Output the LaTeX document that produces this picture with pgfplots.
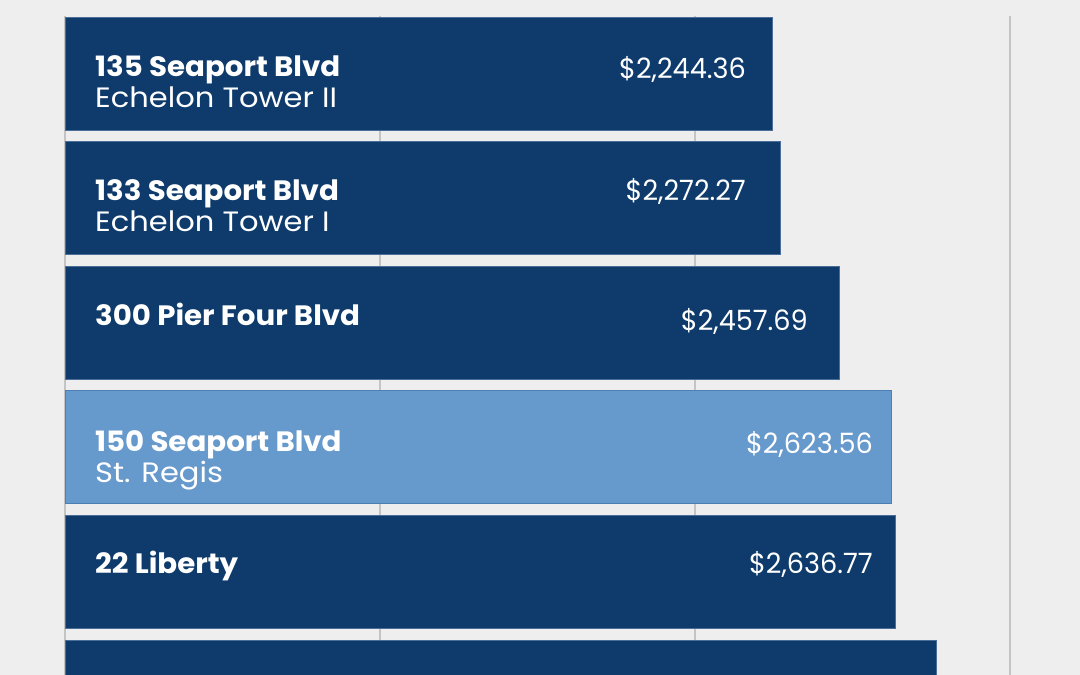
\documentclass[border=0pt]{standalone}
\usepackage{pgfplots}
\pgfplotsset{compat=1.18}
\usepackage{fontspec}
\setmainfont{Poppins}
\newfontfamily\namefont[FakeStretch=1.09, BoldFeatures={FakeStretch=1.045}]{Poppins}
\newfontfamily\valfont[FakeStretch=0.97]{Poppins}
\definecolor{bg}{HTML}{EEEEEE}
\definecolor{navy}{HTML}{0E3B6B}
\definecolor{navyedge}{HTML}{4A6E97}
\definecolor{lightb}{HTML}{6699CC}
\definecolor{lightedge}{HTML}{4E7FB3}
\definecolor{gridc}{HTML}{C4C4C4}
\tikzset{lab/.style={text=white, inner sep=0pt, font=\namefont\fontsize{28}{30}\selectfont},
         val/.style={text=white, inner sep=0pt, font=\valfont\fontsize{28}{30}\selectfont}}
\begin{document}
\begin{tikzpicture}
\useasboundingbox (0,0) rectangle (1080pt,675pt);
\fill[bg] (0,0) rectangle (1080pt,675pt);
\clip (0,0) rectangle (1080pt,675pt);
\begin{axis}[
  at={(65pt,659pt)}, anchor=north west,
  scale only axis, width=1015pt, height=805.1pt,
  xmin=0, xmax=3222.2,
  ymin=-0.4615, ymax=6, y dir=reverse,
  axis line style={draw=none},
  xtick={0,1000,2000,3000}, xticklabels={},
  ytick=\empty,
  major tick length=0pt,
  xmajorgrids, grid style={gridc, line width=1.1pt},
  clip=false,
]
\addplot[xbar, bar shift=0pt, bar width=0.907, fill=navy, draw=navyedge, line width=0.8pt]
  coordinates {(2244.36,0) (2272.27,1) (2457.69,2) (2636.77,4) (2765,5)};
\addplot[xbar, bar shift=0pt, bar width=0.907, fill=lightb, draw=lightedge, line width=0.8pt]
  coordinates {(2623.56,3)};
% names
\node[lab, anchor=base west, xshift=30pt, yshift=-2.5pt] at (axis cs:0,0) {\bfseries 135 Seaport Blvd};
\node[lab, anchor=base west, xshift=30pt, yshift=-33.5pt] at (axis cs:0,0) {Echelon Tower II};
\node[lab, anchor=base west, xshift=30pt, yshift=-2.5pt] at (axis cs:0,1) {\bfseries 133 Seaport Blvd};
\node[lab, anchor=base west, xshift=30pt, yshift=-33.5pt] at (axis cs:0,1) {Echelon Tower I};
\node[lab, anchor=base west, xshift=30pt, yshift=-3pt] at (axis cs:0,2) {\bfseries 300 Pier Four Blvd};
\node[lab, anchor=base west, xshift=30pt, yshift=-4pt] at (axis cs:0,3) {\bfseries 150 Seaport Blvd};
\node[lab, anchor=base west, xshift=30pt, yshift=-35pt] at (axis cs:0,3) {St. Regis};
\node[lab, anchor=base west, xshift=30pt, yshift=-2pt] at (axis cs:0,4) {\bfseries 22 Liberty};
% values
\node[val, anchor=base east, yshift=-4.5pt] at (axis cs:2161.9,0) {\$2,244.36};
\node[val, anchor=base east, yshift=-2pt] at (axis cs:2161.9,1) {\$2,272.27};
\node[val, anchor=base east, yshift=-8pt] at (axis cs:2358.7,2) {\$2,457.69};
\node[val, anchor=base east, yshift=-6.5pt] at (axis cs:2565.1,3) {\$2,623.56};
\node[val, anchor=base east, yshift=-2pt] at (axis cs:2565.1,4) {\$2,636.77};
\end{axis}
\end{tikzpicture}
\end{document}
